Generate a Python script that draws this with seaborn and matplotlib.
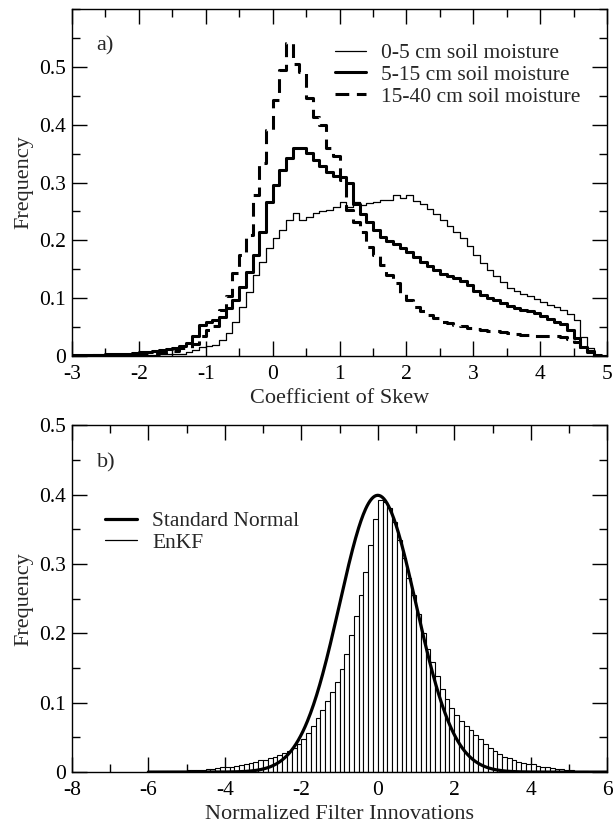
import numpy as np
import pandas as pd
import matplotlib
matplotlib.use("Agg")
import matplotlib.pyplot as plt
from matplotlib.lines import Line2D
from matplotlib.ticker import MultipleLocator
import seaborn as sns

# ---------------- data: panel a) (bins of 0.1 from -3 to 5) ----------------
skew_edges = [round(-3.0 + 0.1 * i, 2) for i in range(81)]
skew_centers = [round(-2.95 + 0.1 * i, 3) for i in range(80)]

sm_0_5 = [0.000, 0.000, 0.001, 0.001, 0.001, 0.001, 0.001, 0.001, 0.002, 0.002,
          0.002, 0.002, 0.002, 0.003, 0.003, 0.003, 0.004, 0.006, 0.010, 0.016,
          0.017, 0.019, 0.028, 0.040, 0.059, 0.085, 0.111, 0.140, 0.163, 0.187,
          0.204, 0.218, 0.235, 0.247, 0.235, 0.241, 0.247, 0.250, 0.252, 0.258,
          0.267, 0.258, 0.267, 0.261, 0.264, 0.267, 0.270, 0.270, 0.279, 0.273,
          0.279, 0.268, 0.262, 0.255, 0.245, 0.235, 0.225, 0.215, 0.204, 0.190,
          0.175, 0.160, 0.148, 0.138, 0.128, 0.118, 0.112, 0.107, 0.103, 0.098,
          0.093, 0.088, 0.084, 0.079, 0.072, 0.062, 0.033, 0.014, 0.002, 0.000]

sm_5_15 = [0.001, 0.001, 0.002, 0.002, 0.002, 0.003, 0.003, 0.004, 0.004, 0.005,
           0.006, 0.007, 0.008, 0.010, 0.012, 0.014, 0.018, 0.023, 0.035, 0.054,
           0.059, 0.062, 0.068, 0.083, 0.097, 0.120, 0.146, 0.175, 0.215, 0.267,
           0.296, 0.322, 0.342, 0.360, 0.360, 0.351, 0.339, 0.328, 0.319, 0.312,
           0.310, 0.300, 0.262, 0.245, 0.232, 0.218, 0.206, 0.198, 0.194, 0.187,
           0.180, 0.172, 0.163, 0.155, 0.148, 0.142, 0.138, 0.135, 0.129, 0.122,
           0.113, 0.106, 0.100, 0.096, 0.092, 0.087, 0.083, 0.080, 0.077, 0.074,
           0.069, 0.064, 0.059, 0.055, 0.045, 0.031, 0.016, 0.008, 0.002, 0.000]

sm_15_40 = [0.000, 0.000, 0.001, 0.001, 0.001, 0.001, 0.002, 0.002, 0.002, 0.003,
            0.003, 0.003, 0.004, 0.005, 0.006, 0.008, 0.014, 0.014, 0.020, 0.035,
            0.045, 0.052, 0.080, 0.103, 0.143, 0.175, 0.209, 0.279, 0.334, 0.391,
            0.443, 0.495, 0.542, 0.505, 0.492, 0.446, 0.414, 0.400, 0.360, 0.345,
            0.304, 0.253, 0.232, 0.215, 0.189, 0.175, 0.157, 0.140, 0.126, 0.109,
            0.097, 0.085, 0.077, 0.071, 0.065, 0.059, 0.057, 0.054, 0.051, 0.048,
            0.046, 0.045, 0.044, 0.043, 0.042, 0.040, 0.038, 0.037, 0.036, 0.035,
            0.035, 0.034, 0.034, 0.033, 0.030, 0.025, 0.016, 0.006, 0.001, 0.000]

labels_a = ["0-5 cm soil moisture", "5-15 cm soil moisture", "15-40 cm soil moisture"]

# ---------------- data: panel b) (bins of 0.125 from -6 to 5.5) ----------------
innov_edges = [-6.0 + 0.125 * i for i in range(93)]
innov_centers = [-6.0 + 0.0625 + 0.125 * i for i in range(92)]

enkf = [0.001, 0.001, 0.001, 0.001, 0.0015, 0.0015, 0.002, 0.002, 0.0025, 0.003,
        0.003, 0.0035, 0.004, 0.005, 0.006, 0.007, 0.007, 0.008, 0.009, 0.010,
        0.011, 0.013, 0.015, 0.017, 0.018, 0.020, 0.022, 0.025, 0.027, 0.030,
        0.034, 0.040, 0.048, 0.056, 0.066, 0.078, 0.090, 0.102, 0.115, 0.130,
        0.148, 0.170, 0.198, 0.225, 0.255, 0.288, 0.328, 0.365, 0.392, 0.390,
        0.380, 0.360, 0.335, 0.308, 0.280, 0.255, 0.228, 0.200, 0.178, 0.158,
        0.138, 0.120, 0.105, 0.092, 0.082, 0.073, 0.066, 0.060, 0.054, 0.047,
        0.040, 0.034, 0.030, 0.026, 0.022, 0.020, 0.018, 0.015, 0.013, 0.011,
        0.011, 0.009, 0.008, 0.007, 0.006, 0.005, 0.004, 0.003, 0.003, 0.002,
        0.0015, 0.001]

labels_b = ["Standard Normal", "EnKF"]

# ---------------- style ----------------
sns.set_style("ticks")
plt.rcParams["font.family"] = ["Liberation Serif", "DejaVu Serif"]
plt.rcParams["font.size"] = 15

fig = plt.figure(figsize=(6.14, 8.24), dpi=100)
axA = fig.add_axes([0.117, 0.568, 0.872, 0.421])
axB = fig.add_axes([0.117, 0.063, 0.872, 0.421])

TICK_FS = 15.5
LABEL_FS = 16
LEG_FS = 15.5


def style_axis(ax, xmaj, xmin, ymaj, ymin):
    ax.xaxis.set_major_locator(MultipleLocator(xmaj))
    ax.xaxis.set_minor_locator(MultipleLocator(xmin))
    ax.yaxis.set_major_locator(MultipleLocator(ymaj))
    ax.yaxis.set_minor_locator(MultipleLocator(ymin))
    ax.tick_params(which="both", direction="in", top=True, right=True,
                   colors="black", width=1.0, labelsize=TICK_FS)
    ax.tick_params(which="major", length=11)
    ax.tick_params(which="minor", length=5.5)
    ax.tick_params(axis="y", which="major", pad=4)
    ax.tick_params(axis="x", which="major", pad=6.5)
    for s in ax.spines.values():
        s.set_visible(True)
        s.set_linewidth(1.0)
        s.set_color("black")


# ---------------- panel a ----------------
styles_a = [dict(linewidth=0.9, linestyle="-"),
            dict(linewidth=2.2, linestyle="-"),
            dict(linewidth=2.2, linestyle=(0, (4.5, 2.5)))]
for vals, st in zip([sm_0_5, sm_5_15, sm_15_40], styles_a):
    dfa = pd.DataFrame({"skew": skew_centers, "freq": vals})
    sns.histplot(data=dfa, x="skew", weights="freq", bins=skew_edges, element="step",
                 fill=False, color="black", ax=axA, **st)

axA.set_xlim(-3, 5)
axA.set_ylim(0, 0.6)
style_axis(axA, 1, 0.5, 0.1, 0.05)
axA.set_yticks([0, 0.1, 0.2, 0.3, 0.4, 0.5])
axA.set_yticklabels(["0", "0.1", "0.2", "0.3", "0.4", "0.5"])
axA.set_xticks(range(-3, 6))
axA.set_xticklabels([str(v) for v in range(-3, 6)])
axA.set_xlabel("Coefficient of Skew", fontsize=LABEL_FS, labelpad=3.5)
axA.set_ylabel("Frequency", fontsize=LABEL_FS, labelpad=4)
axA.text(-2.63, 0.536, "a)", fontsize=16, ha="left", va="center")
handles_a = [Line2D([0], [0], color="black", **st) for st in styles_a]
axA.legend(handles_a, labels_a, loc="upper left", bbox_to_anchor=(0.475, 0.927),
           frameon=False, fontsize=LEG_FS, handlelength=1.45, handletextpad=0.7,
           labelspacing=0.08, borderaxespad=0)

# ---------------- panel b ----------------
dfb = pd.DataFrame({"innov": innov_centers, "freq": enkf})
sns.histplot(data=dfb, x="innov", weights="freq", bins=innov_edges, element="bars",
             fill=True, color="white", edgecolor="black", linewidth=0.8,
             alpha=1, ax=axB)
xs = np.linspace(-6, 6, 601)
normal_pdf = np.exp(-0.5 * xs ** 2) / np.sqrt(2 * np.pi)
sns.lineplot(x=xs, y=normal_pdf, color="black", linewidth=2.3, ax=axB)

axB.set_xlim(-8, 6)
axB.set_ylim(0, 0.5)
style_axis(axB, 2, 1, 0.1, 0.05)
axB.set_yticks([0, 0.1, 0.2, 0.3, 0.4, 0.5])
axB.set_yticklabels(["0", "0.1", "0.2", "0.3", "0.4", "0.5"])
axB.set_xticks(range(-8, 7, 2))
axB.set_xticklabels([str(v) for v in range(-8, 7, 2)])
axB.set_xlabel("Normalized Filter Innovations", fontsize=LABEL_FS, labelpad=3.5)
axB.set_ylabel("Frequency", fontsize=LABEL_FS, labelpad=4)
axB.text(-7.35, 0.445, "b)", fontsize=16, ha="left", va="center")
handles_b = [Line2D([0], [0], color="black", linewidth=2.3),
             Line2D([0], [0], color="black", linewidth=0.9)]
axB.legend(handles_b, labels_b, loc="upper left", bbox_to_anchor=(0.046, 0.777),
           frameon=False, fontsize=LEG_FS, handlelength=1.5, handletextpad=0.7,
           labelspacing=0.08, borderaxespad=0)

fig.savefig("out.png", dpi=100)
